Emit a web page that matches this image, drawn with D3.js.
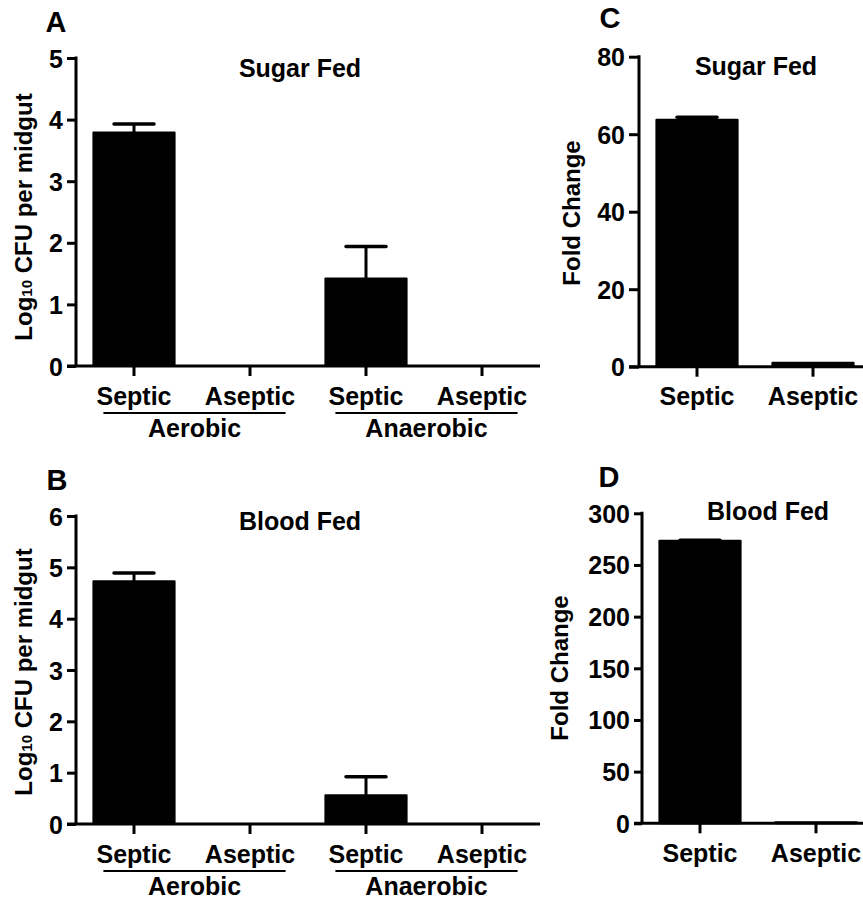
<!DOCTYPE html>
<html>
<head>
<meta charset="utf-8">
<script src="https://cdn.jsdelivr.net/npm/d3@7"></script>
<style>
  html, body { margin: 0; padding: 0; background: #fff; }
  svg { display: block; }
  text { font-family: "Liberation Sans", Arial, sans-serif; font-weight: bold; fill: #000; }
</style>
</head>
<body>
<svg id="chart" width="863" height="900"></svg>
<script>
// ---------- data ----------
const categoriesAB = ["Septic", "Aseptic", "Septic", "Aseptic"];
const groupsAB = ["Aerobic", "Anaerobic"];
const sugarLogCFU = [3.79, 0, 1.42, 0];
const sugarLogCFUErr = [0.14, 0, 0.52, 0];
const bloodLogCFU = [4.73, 0, 0.56, 0];
const bloodLogCFUErr = [0.16, 0, 0.36, 0];

const categoriesCD = ["Septic", "Aseptic"];
const sugarFold = [63.7, 1];
const sugarFoldErr = [0.7, 0];
const bloodFold = [273.5, 1];
const bloodFoldErr = [0.4, 0];

const ticksA = [0, 1, 2, 3, 4, 5];
const ticksB = [0, 1, 2, 3, 4, 5, 6];
const ticksC = [0, 20, 40, 60, 80];
const ticksD = [0, 50, 100, 150, 200, 250, 300];

// ---------- drawing ----------
const svg = d3.select("#chart");
const FONT = 25;

function panel(cfg) {
  const g = svg.append("g");
  const n = cfg.cats.length;
  const x = d3.scaleBand().domain(d3.range(n)).range([cfg.x0, cfg.x0 + 116 * n])
    .paddingInner(0.3).paddingOuter(0.15);
  const y = d3.scaleLinear().domain([0, cfg.max]).range([cfg.y0, cfg.y1]);

  // bars
  g.selectAll("rect.bar").data(cfg.values).enter().append("rect")
    .attr("class", "bar")
    .attr("x", (d, i) => x(i))
    .attr("width", x.bandwidth())
    .attr("y", d => y(d))
    .attr("height", d => y(0) - y(d))
    .attr("fill", "#000")
    .attr("stroke", "#000")
    .attr("stroke-width", d => d > 0 ? 2 : 0)
    .attr("stroke-linejoin", "round");

  // error bars (upper only)
  cfg.values.forEach((v, i) => {
    const e = cfg.errs[i];
    if (!(e > 0) || !(v > 0)) return;
    const cx = x(i) + x.bandwidth() / 2;
    g.append("line").attr("x1", cx).attr("x2", cx)
      .attr("y1", y(v)).attr("y2", y(v + e))
      .attr("stroke", "#000").attr("stroke-width", 3);
    g.append("line").attr("x1", cx - 20).attr("x2", cx + 20)
      .attr("y1", y(v + e)).attr("y2", y(v + e))
      .attr("stroke", "#000").attr("stroke-width", 3.5).attr("stroke-linecap", "round");
  });

  // y axis
  const yAxis = d3.axisLeft(y).tickValues(cfg.ticks).tickSize(cfg.tickLen).tickPadding(4).tickFormat(d3.format("d"));
  const ya = g.append("g").attr("transform", `translate(${cfg.x0},0)`).call(yAxis);
  ya.select(".domain").attr("stroke-width", 3).attr("d", `M0,${cfg.y0}V${cfg.y1 - 1.5}`);
  ya.selectAll(".tick line").attr("stroke-width", 3);
  ya.selectAll(".tick text").style("font-size", FONT + "px").style("font-family", "Liberation Sans, Arial, sans-serif").style("font-weight", "bold").attr("dy", "0.36em");

  // x axis
  const xAxis = d3.axisBottom(x).tickSize(10).tickPadding(8).tickFormat(i => cfg.cats[i]);
  const xa = g.append("g").attr("transform", `translate(0,${cfg.y0})`).call(xAxis);
  xa.select(".domain").attr("stroke-width", 3).attr("d", `M${cfg.x0 - cfg.tickLen},0H${cfg.x0 + 116 * n}`);
  xa.selectAll(".tick line").attr("stroke-width", 3);
  xa.selectAll(".tick text").style("font-size", FONT + "px").style("font-family", "Liberation Sans, Arial, sans-serif").style("font-weight", "bold").attr("dy", "0.82em");

  // group labels
  if (cfg.groups) {
    cfg.groups.forEach((gr, k) => {
      const a = x(2 * k) + 10, b = x(2 * k + 1) + x.bandwidth() - 5;
      g.append("line").attr("x1", a).attr("x2", b)
        .attr("y1", cfg.y0 + 47).attr("y2", cfg.y0 + 47)
        .attr("stroke", "#000").attr("stroke-width", 2);
      g.append("text").attr("x", (a + b) / 2).attr("y", cfg.y0 + 71)
        .attr("text-anchor", "middle").style("font-size", FONT + "px").text(gr);
    });
  }

  // title
  g.append("text").attr("x", cfg.titleX).attr("y", cfg.titleY)
    .attr("text-anchor", "middle").style("font-size", FONT + "px").text(cfg.title);

  // panel letter
  g.append("text").attr("x", cfg.letterX).attr("y", cfg.letterY)
    .attr("text-anchor", "middle").style("font-size", "29px").text(cfg.letter);

  // y label
  const yl = g.append("text")
    .attr("transform", `translate(${cfg.ylabX},${cfg.ylabY}) rotate(-90)`)
    .attr("text-anchor", "middle").style("font-size", "24px");
  if (cfg.log) {
    yl.append("tspan").text("Log");
    yl.append("tspan").style("font-size", "15px").text("10");
    yl.append("tspan").text(" CFU per midgut");
  } else {
    yl.text(cfg.ylabel);
  }
}

panel({ cats: categoriesAB, groups: groupsAB, values: sugarLogCFU, errs: sugarLogCFUErr,
  max: 5, ticks: ticksA, x0: 76, y0: 366, y1: 58, tickLen: 9,
  title: "Sugar Fed", titleX: 300, titleY: 77, letter: "A", letterX: 56, letterY: 32,
  log: true, ylabX: 32, ylabY: 217 });

panel({ cats: categoriesAB, groups: groupsAB, values: bloodLogCFU, errs: bloodLogCFUErr,
  max: 6, ticks: ticksB, x0: 76, y0: 824, y1: 516, tickLen: 9,
  title: "Blood Fed", titleX: 300, titleY: 530, letter: "B", letterX: 57, letterY: 490,
  log: true, ylabX: 32, ylabY: 672 });

panel({ cats: categoriesCD, values: sugarFold, errs: sugarFoldErr,
  max: 80, ticks: ticksC, x0: 639, y0: 366.7, y1: 56.7, tickLen: 10,
  title: "Sugar Fed", titleX: 756, titleY: 75, letter: "C", letterX: 610, letterY: 28,
  log: false, ylabel: "Fold Change", ylabX: 580, ylabY: 213 });

panel({ cats: categoriesCD, values: bloodFold, errs: bloodFoldErr,
  max: 300, ticks: ticksD, x0: 642, y0: 823.3, y1: 513.3, tickLen: 8,
  title: "Blood Fed", titleX: 768, titleY: 520, letter: "D", letterX: 609, letterY: 487,
  log: false, ylabel: "Fold Change", ylabX: 568, ylabY: 668 });
</script>
</body>
</html>
